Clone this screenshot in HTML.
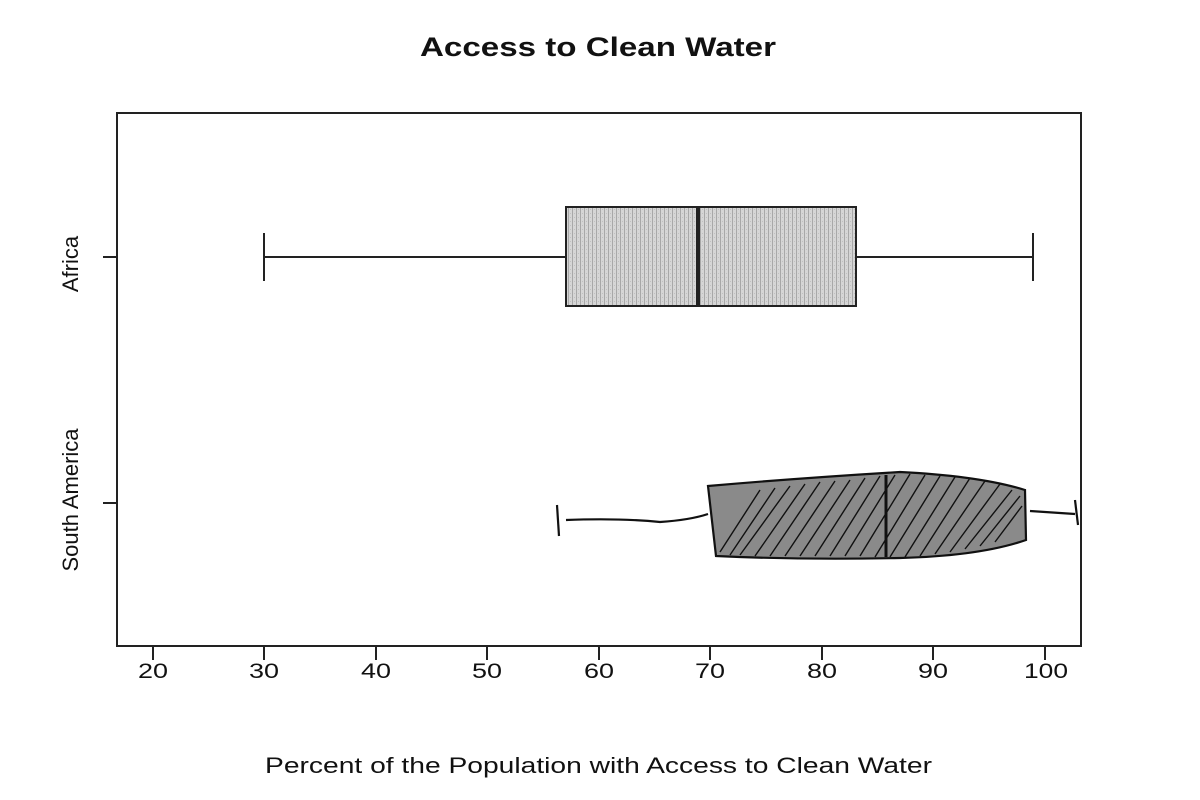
<!DOCTYPE html>
<html><head><meta charset="utf-8"><style>
body{margin:0;background:#fff;}
svg{display:block;font-family:"Liberation Sans",Arial,sans-serif;}
</style></head><body>
<svg width="1200" height="800" viewBox="0 0 1200 800">
<defs>
<pattern id="stip" width="4" height="4" patternUnits="userSpaceOnUse">
<rect width="4" height="4" fill="#d6d6d6"/>
<rect x="0" y="0" width="1" height="4" fill="#a8a8a8"/>
<rect x="2" y="1" width="1" height="1" fill="#c0c0c0"/>
</pattern>
</defs>
<rect width="1200" height="800" fill="#fff"/>
<text x="420" y="56" textLength="356" lengthAdjust="spacingAndGlyphs" font-size="27" font-weight="bold" fill="#111">Access to Clean Water</text>
<rect x="117" y="113" width="964" height="533" fill="none" stroke="#222" stroke-width="2"/>
<g stroke="#222" stroke-width="2">
<line x1="153" y1="646" x2="153" y2="660"/><line x1="264" y1="646" x2="264" y2="660"/>
<line x1="376" y1="646" x2="376" y2="660"/><line x1="487" y1="646" x2="487" y2="660"/>
<line x1="599" y1="646" x2="599" y2="660"/><line x1="710" y1="646" x2="710" y2="660"/>
<line x1="822" y1="646" x2="822" y2="660"/><line x1="933" y1="646" x2="933" y2="660"/>
<line x1="1045" y1="646" x2="1045" y2="660"/>
<line x1="103" y1="257" x2="117" y2="257"/><line x1="103" y1="503" x2="117" y2="503"/>
</g>
<g font-size="21" fill="#111" lengthAdjust="spacingAndGlyphs">
<text x="138" y="678" textLength="30" lengthAdjust="spacingAndGlyphs">20</text>
<text x="249" y="678" textLength="30" lengthAdjust="spacingAndGlyphs">30</text>
<text x="361" y="678" textLength="30" lengthAdjust="spacingAndGlyphs">40</text>
<text x="472" y="678" textLength="30" lengthAdjust="spacingAndGlyphs">50</text>
<text x="584" y="678" textLength="30" lengthAdjust="spacingAndGlyphs">60</text>
<text x="695" y="678" textLength="30" lengthAdjust="spacingAndGlyphs">70</text>
<text x="807" y="678" textLength="30" lengthAdjust="spacingAndGlyphs">80</text>
<text x="918" y="678" textLength="30" lengthAdjust="spacingAndGlyphs">90</text>
<text x="1024" y="678" textLength="44" lengthAdjust="spacingAndGlyphs">100</text>
</g>
<text x="265" y="773" textLength="667" lengthAdjust="spacingAndGlyphs" font-size="22" fill="#111">Percent of the Population with Access to Clean Water</text>
<text transform="translate(78,264) rotate(-90)" text-anchor="middle" font-size="22" fill="#111">Africa</text>
<text transform="translate(78,500) rotate(-90)" text-anchor="middle" font-size="22" fill="#111">South America</text>
<g stroke="#222" stroke-width="2" fill="none">
<line x1="264" y1="257" x2="566" y2="257"/><line x1="856" y1="257" x2="1033" y2="257"/>
<line x1="264" y1="233" x2="264" y2="281"/><line x1="1033" y1="233" x2="1033" y2="281"/>
<rect x="566" y="207" width="290" height="99" fill="url(#stip)"/>
<line x1="698" y1="207" x2="698" y2="306" stroke-width="4"/>
</g>
<g stroke="#111" stroke-width="2.2" fill="none">
<path d="M557 505 L559 536"/>
<path d="M566 520 Q620 518 660 522 Q690 520 708 514"/>
<path d="M1030 511 L1075 514"/>
<path d="M1075 500 L1078 525"/>
<path d="M708 486 Q800 478 900 472 Q980 476 1025 490 L1026 540 Q980 556 900 558 Q800 560 716 556 Z" fill="#8a8a8a"/>
<path d="M720 552 L760 490 M730 555 L775 488 M740 555 L790 486 M755 556 L805 484 M770 556 L820 482 M785 556 L835 481 M800 556 L850 480 M815 556 L865 478 M830 556 L880 476 M845 556 L895 475 M860 556 L910 474 M875 557 L925 475 M890 557 L940 476 M905 557 L955 477 M920 556 L970 478 M935 554 L985 481 M950 552 L1000 484 M965 549 L1012 490 M980 546 L1020 496 M995 542 L1022 506" stroke-width="1.4"/>
<line x1="886" y1="475" x2="886" y2="557" stroke-width="3"/>
</g>
</svg>
</body></html>
